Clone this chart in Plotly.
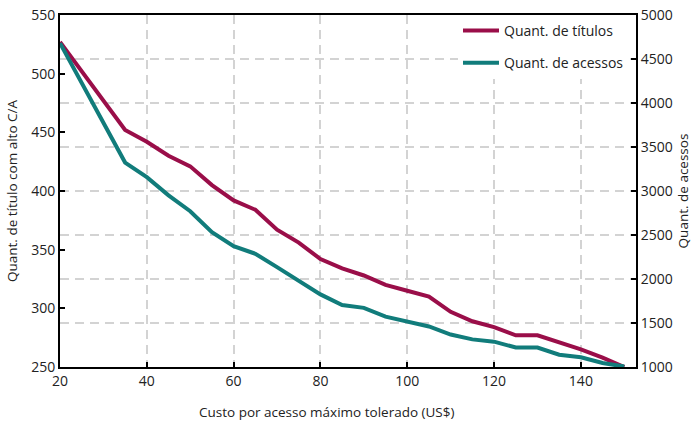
import plotly.graph_objects as go

# Data
custo = [20, 35, 40, 45, 50, 55, 60, 65, 70, 75, 80, 85, 90, 95, 100, 105,
         110, 115, 120, 125, 130, 135, 140, 145, 150]
quant_titulos = [527, 452, 442, 430, 421, 405, 392, 384, 367, 356, 342, 334, 328, 320,
                 315, 310, 297, 289, 284, 277, 277, 271, 265, 258, 250]
quant_acessos = [4680, 3323, 3157, 2950, 2770, 2531, 2372, 2287, 2135, 1975, 1825, 1705,
                 1672, 1572, 1517, 1461, 1369, 1314, 1288, 1221, 1221, 1140, 1111, 1045, 1005]

x_ticks = [20, 40, 60, 80, 100, 120, 140]
y_ticks = [250, 300, 350, 400, 450, 500, 550]
y2_ticks = [1000, 1500, 2000, 2500, 3000, 3500, 4000, 4500, 5000]

MAROON = "#9a0e49"
TEAL = "#117c7b"
FONT = "Open Sans"
GRID = "#d3d3d3"
DASH = "9px,6px"

fig = go.Figure()
fig.add_trace(go.Scatter(x=custo, y=quant_titulos, mode="lines", name="Quant. de títulos",
                         line=dict(color=MAROON, width=4), yaxis="y", legendgroup="a"))
fig.add_trace(go.Scatter(x=custo, y=quant_acessos, mode="lines", name="Quant. de acessos",
                         line=dict(color=TEAL, width=4), yaxis="y2", legendgroup="b"))

axis_common = dict(showline=True, linecolor="black", linewidth=2, ticks="inside",
                   ticklen=5, tickcolor="black", tickwidth=1.5,
                   ticklabeloverflow="allow",
                   tickfont=dict(family=FONT, size=14, color="#222"))

fig.update_layout(
    width=700, height=427,
    margin=dict(l=60, r=64, t=5, b=60),
    paper_bgcolor="white", plot_bgcolor="white",
    font=dict(family=FONT, size=14, color="#222"),
    xaxis=dict(range=[20, 152.7], tickvals=x_ticks, mirror=True,
               showgrid=True, gridcolor=GRID, gridwidth=2, griddash=DASH,
               zeroline=False, **axis_common),
    yaxis=dict(range=[250, 550], tickvals=y_ticks, showgrid=False, zeroline=False,
               title=dict(text="Quant. de título com alto C/A", standoff=10,
                          font=dict(family=FONT, size=13.5)),
               **axis_common),
    yaxis2=dict(range=[1000, 5000], tickvals=y2_ticks, overlaying="y", side="right",
                showgrid=True, gridcolor=GRID, gridwidth=2, griddash=DASH,
                zeroline=False,
                title=dict(text="Quant. de acessos", standoff=7,
                           font=dict(family=FONT, size=13.5)),
                **axis_common),
    legend=dict(x=(458 - 60) / 576, y=1.0, xanchor="left", yanchor="top",
                bgcolor="white", borderwidth=0, tracegroupgap=11, itemwidth=36,
                font=dict(family=FONT, size=14, color="#222")),
    showlegend=True,
)

fig.add_annotation(text="Custo por acesso máximo tolerado (US$)", xref="paper", yref="paper",
                   x=(326 - 60) / 576, y=-(413 - 367) / 362, xanchor="center", yanchor="middle",
                   showarrow=False, font=dict(family=FONT, size=13.5, color="#222"))

fig.write_html("out.html", config={"displayModeBar": False},
               post_script="document.body.style.margin='0';")
